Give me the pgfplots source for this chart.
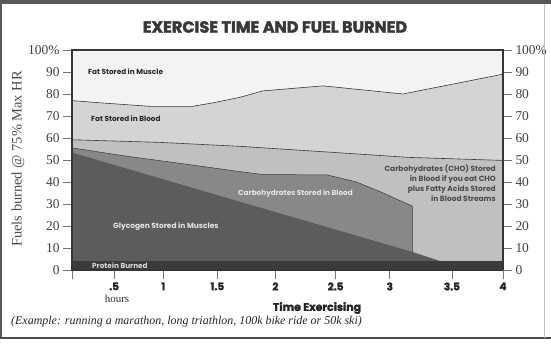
\documentclass[border=0pt]{standalone}
\usepackage{fontspec}
\setmainfont{Liberation Serif}
\newfontfamily\pop{Poppins}
\newfontfamily\popX{Poppins}[BoldFeatures={FakeBold=2}]
\usepackage{pgfplots}
\pgfplotsset{compat=1.18}
\definecolor{muscle}{HTML}{F3F3F3}
\definecolor{fatblood}{HTML}{D4D4D4}
\definecolor{choeat}{HTML}{C0C0C0}
\definecolor{choblood}{HTML}{888888}
\definecolor{glyco}{HTML}{5C5C5C}
\definecolor{protein}{HTML}{3C3C3C}
\definecolor{frame}{HTML}{363636}
\definecolor{edge}{HTML}{3A3A3A}
\begin{document}
\begin{tikzpicture}
\path[use as bounding box] (-72bp,-77bp) rectangle (479bp,270bp);
\fill[white] (-72bp,-77bp) rectangle (479bp,270bp);
\begin{axis}[at={(0,0)}, anchor=south west, scale only axis,
  width=431bp, height=220bp,
  xmin=0, xmax=4, ymin=0, ymax=100,
  axis on top=true,
  axis background/.style={fill=muscle},
  axis line style={line width=2.6bp, draw=frame},
  tick align=outside, major tick length=9bp,
  tick style={line width=0.7bp, draw=black!55},
  xtick={0,0.391,0.847,1.349,1.888,2.447,2.949,3.526,4},
  xticklabels={{},.5,1,1.5,2,2.5,3,3.5,4},
  xtick pos=bottom, ytick pos=left,
  ytick={0,10,20,30,40,50,60,70,80,90,100},
  yticklabels={0,10,20,30,40,50,60,70,80,90,100\%},
  x tick label style={font=\popX\bfseries\fontsize{10.5}{10.5}\selectfont, text=black!85},
  y tick label style={font=\fontsize{13.5}{13.5}\selectfont, text=black!75},
]
% Fat stored in blood (top boundary)
\addplot[fill=fatblood, draw=edge, line width=0.6bp] coordinates {
 (0,77) (0.26,76) (0.72,74.4) (1.12,74.4) (1.31,76) (1.56,78.5) (1.77,81.4) (2.33,83.7) (3.07,80) (4,89)} \closedcycle;
% CHO stored in blood if you eat CHO plus fatty acids
\addplot[fill=choeat, draw=edge, line width=0.6bp] coordinates {
 (0,59.2) (0.82,58) (1.56,56.2) (2.41,53.5) (3.12,51.2) (4,49.8)} \closedcycle;
% Carbohydrates stored in blood
\addplot[fill=choblood, draw=edge, line width=0.5bp] coordinates {
 (0,55.5) (0.54,51.5) (1.0,48.5) (1.56,44.7) (1.77,43.4) (2.37,43.2) (2.64,40) (2.86,35.6) (3.16,29)} \closedcycle;
% Glycogen stored in muscles
\addplot[fill=glyco, draw=none] coordinates {
 (0,53.4) (1.56,31) (3.16,8.2) (3.42,4)} \closedcycle;
% Protein burned
\addplot[fill=protein, draw=none] coordinates {(0,4) (4,4)} \closedcycle;
\end{axis}
\begin{axis}[at={(0,0)}, anchor=south west, scale only axis,
  width=431bp, height=220bp,
  xmin=0, xmax=4, ymin=0, ymax=100,
  axis x line=none, axis y line*=right,
  axis line style={line width=2.6bp, draw=frame},
  tick align=outside, major tick length=9bp,
  tick style={line width=0.7bp, draw=black!55},
  ytick={0,10,20,30,40,50,60,70,80,90,100},
  yticklabels={0,10,20,30,40,50,60,70,80,90,100\%},
  y tick label style={font=\fontsize{13.5}{13.5}\selectfont, text=black!75},
]
\addplot[draw=none] coordinates {(0,0)};
\end{axis}
\begin{scope}[x=1bp,y=-1bp,shift={(-72bp,270bp)}]
\fill[black!65] (0,0) rectangle (551,4);
\draw[black!65, line width=1.5bp] (1,0) -- (1,338);
\draw[black!70, line width=1.5bp] (0,338) -- (551,338);
\draw[black!25, line width=1bp] (545,4) -- (545,338);
\node[font=\popX\bfseries\fontsize{16.2}{17}\selectfont, text=black!78] at (275,27) {EXERCISE TIME AND FUEL BURNED};
\node[rotate=90, font=\fontsize{14.5}{14.5}\selectfont, text=black!70] at (18,159) {Fuels burned @ 75\% Max HR};
\node[font=\fontsize{11}{11}\selectfont, text=black!80] at (117,299) {hours};
\node[font=\popX\bfseries\fontsize{11}{11}\selectfont, text=black!85] at (317,308) {Time Exercising};
\node[anchor=west, inner sep=0, font=\itshape\fontsize{12}{12}\selectfont, text=black!85] at (11,322) {(Example: running a marathon, long triathlon, 100k bike ride or 50k ski)};
\node[anchor=west, inner sep=0, font=\pop\bfseries\fontsize{7.3}{8}\selectfont, text=black!85] at (88,72) {Fat Stored in Muscle};
\node[anchor=west, inner sep=0, font=\pop\bfseries\fontsize{7.3}{8}\selectfont, text=black!85] at (91,119) {Fat Stored in Blood};
\node[anchor=west, inner sep=0, font=\pop\bfseries\fontsize{7.5}{8}\selectfont, text=white!90!black] at (113,227) {Glycogen Stored in Muscles};
\node[anchor=west, inner sep=0, font=\pop\bfseries\fontsize{7.3}{8}\selectfont, text=white!90!black] at (238,194) {Carbohydrates Stored in Blood};
\node[anchor=west, inner sep=0, font=\pop\bfseries\fontsize{7.3}{8}\selectfont, text=white!85!black] at (92,266) {Protein Burned};
\node[anchor=north east, align=right, inner sep=0, font=\pop\bfseries\fontsize{7.5}{10.3}\selectfont, text=black!70] at (496,164) {Carbohydrates (CHO) Stored\\in Blood if you eat CHO\\plus Fatty Acids Stored\\in Blood Streams};
\end{scope}
\end{tikzpicture}
\end{document}
